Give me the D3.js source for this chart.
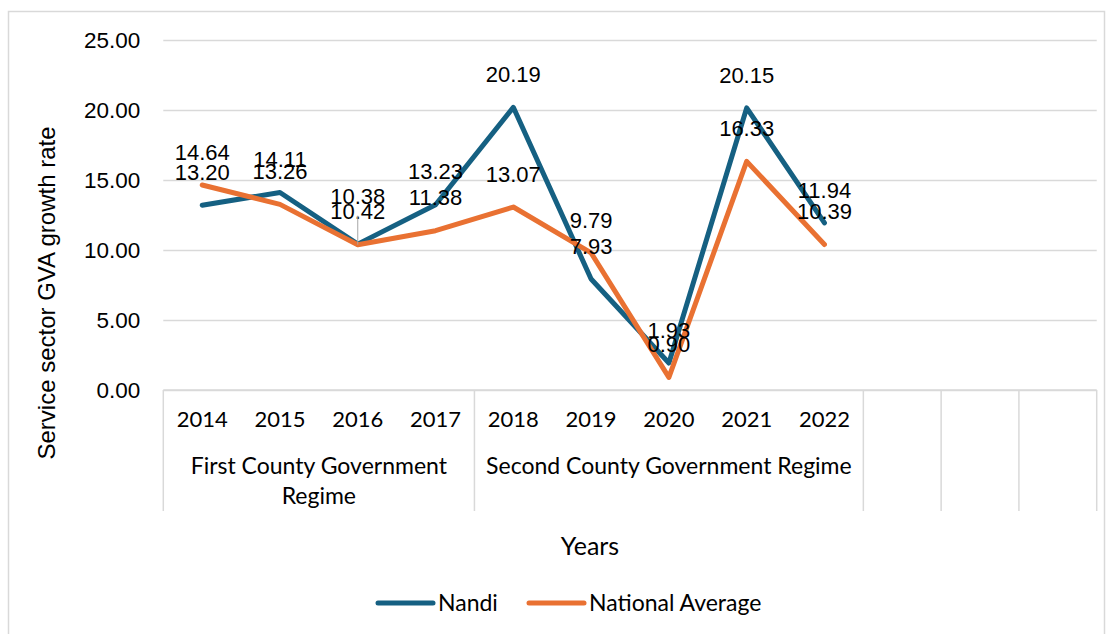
<!DOCTYPE html>
<html>
<head>
<meta charset="utf-8">
<script src="https://cdn.jsdelivr.net/npm/d3@7"></script>
<style>
  html, body { margin: 0; padding: 0; background: #ffffff; }
  svg { display: block; }
</style>
</head>
<body>
<svg id="chart" width="1111" height="634"></svg>
<script>
// Service sector GVA growth rate, Nandi vs national average (%)
const categories = ["2014", "2015", "2016", "2017", "2018", "2019", "2020", "2021", "2022", "", "", ""];
const regimes = ["First County Government Regime", "Second County Government Regime", "", "", ""];
const regimeSpans = [4, 5, 1, 1, 1];
const nandi = [13.20, 14.11, 10.42, 13.23, 20.19, 7.93, 1.93, 20.15, 11.94];
const national = [14.64, 13.26, 10.38, 11.38, 13.07, 9.79, 0.90, 16.33, 10.39];
const yTicks = [0, 5, 10, 15, 20, 25];
const seriesNames = ["Nandi", "National Average"];

const svg = d3.select("#chart");
const plot = { left: 163.3, right: 1096.7, top: 40, bottom: 390 };
const catAxisBottom = 511;
const gridColor = "#d9d9d9";
const colors = { "Nandi": "#156082", "National Average": "#E97132" };
const axisFont = "Lato, 'Open Sans', sans-serif";
const numFont = "'Liberation Sans', Arial, sans-serif";

// chart area frame
svg.append("rect")
  .attr("x", 8.5).attr("y", 11.5)
  .attr("width", 1096).attr("height", 640)
  .attr("fill", "#ffffff").attr("stroke", gridColor).attr("stroke-width", 1.5);

const x = d3.scaleBand()
  .domain(d3.range(categories.length))
  .range([plot.left, plot.right])
  .paddingInner(0).paddingOuter(0);
const y = d3.scaleLinear().domain([0, 25]).range([plot.bottom, plot.top]);
const cx = i => x(i) + x.bandwidth() / 2;

// value axis with gridlines
const yAxis = d3.axisLeft(y)
  .tickValues(yTicks)
  .tickFormat(d3.format(".2f"))
  .tickSize(-(plot.right - plot.left))
  .tickPadding(23);
const gy = svg.append("g")
  .attr("transform", `translate(${plot.left},0)`)
  .call(yAxis);
gy.select(".domain").remove();
gy.selectAll(".tick line").attr("stroke", gridColor).attr("stroke-width", 1.5);
gy.selectAll(".tick text")
  .attr("fill", "#000").attr("font-family", numFont).attr("font-size", 22.5);

// category axis: year row, regime row and separators
const catG = svg.append("g");
catG.append("line")
  .attr("x1", plot.left).attr("x2", plot.right)
  .attr("y1", plot.bottom).attr("y2", plot.bottom)
  .attr("stroke", gridColor).attr("stroke-width", 1.5);

const boundaries = [0];
regimeSpans.forEach((s, i) => boundaries.push(boundaries[i] + s));
boundaries.forEach(b => {
  const bx = b < categories.length ? x(b) : plot.right;
  catG.append("line")
    .attr("x1", bx).attr("x2", bx)
    .attr("y1", plot.bottom).attr("y2", catAxisBottom)
    .attr("stroke", gridColor).attr("stroke-width", 1.5);
});

catG.selectAll("text.year")
  .data(categories)
  .join("text")
  .attr("class", "year")
  .attr("x", (d, i) => cx(i))
  .attr("y", 419.5)
  .attr("dy", "0.35em")
  .attr("text-anchor", "middle")
  .attr("font-family", axisFont).attr("font-size", 22).attr("fill", "#000")
  .text(d => d);

// regime labels, wrapped to the width of their group
regimes.forEach((name, i) => {
  if (!name) return;
  const x0 = x(boundaries[i]);
  const x1 = boundaries[i + 1] < categories.length ? x(boundaries[i + 1]) : plot.right;
  const maxW = x1 - x0 - 8;
  const t = catG.append("text")
    .attr("x", (x0 + x1) / 2)
    .attr("y", 466)
    .attr("text-anchor", "middle")
    .attr("font-family", axisFont).attr("font-size", 23).attr("fill", "#000");
  const words = name.split(" ");
  let line = [];
  let tspan = t.append("tspan").attr("x", (x0 + x1) / 2).attr("dy", "0.35em");
  words.forEach(w => {
    line.push(w);
    tspan.text(line.join(" "));
    if (tspan.node().getComputedTextLength() > maxW && line.length > 1) {
      line.pop();
      tspan.text(line.join(" "));
      line = [w];
      tspan = t.append("tspan").attr("x", (x0 + x1) / 2).attr("dy", "1.3em").text(w);
    }
  });
});

// axis titles
svg.append("text")
  .attr("x", 590).attr("y", 546).attr("dy", "0.35em")
  .attr("text-anchor", "middle")
  .attr("font-family", axisFont).attr("font-size", 25).attr("fill", "#000")
  .text("Years");
svg.append("text")
  .attr("transform", "translate(47,293) rotate(-90)")
  .attr("dy", "0.35em")
  .attr("text-anchor", "middle")
  .attr("font-family", numFont).attr("font-size", 24).attr("fill", "#000")
  .text("Service sector GVA growth rate");

// series lines
const series = [
  { name: seriesNames[0], values: nandi },
  { name: seriesNames[1], values: national }
];
const line = d3.line().x((d, i) => cx(i)).y(d => y(d));
series.forEach(s => {
  svg.append("path")
    .datum(s.values)
    .attr("d", line)
    .attr("fill", "none")
    .attr("stroke", colors[s.name])
    .attr("stroke-width", 5)
    .attr("stroke-linejoin", "round")
    .attr("stroke-linecap", "round");
});

// data labels above each point; one label lifted clear of its neighbour
const labelGap = 33;
const lifted = { series: "National Average", index: 2, dy: -15 };
series.forEach(s => {
  s.values.forEach((v, i) => {
    const shift = (s.name === lifted.series && i === lifted.index) ? lifted.dy : 0;
    const ly = y(v) - labelGap + shift;
    if (shift) {
      svg.append("line")
        .attr("x1", cx(i)).attr("x2", cx(i))
        .attr("y1", ly + 19).attr("y2", y(v))
        .attr("stroke", "#a6a6a6").attr("stroke-width", 1);
    }
    svg.append("text")
      .attr("x", cx(i)).attr("y", ly).attr("dy", "0.35em")
      .attr("text-anchor", "middle")
      .attr("font-family", numFont).attr("font-size", 22).attr("fill", "#000")
      .text(d3.format(".2f")(v));
  });
});

// legend
const legendItems = [
  { name: seriesNames[0], x: 378 },
  { name: seriesNames[1], x: 529 }
];
const lg = svg.append("g");
legendItems.forEach(it => {
  lg.append("line")
    .attr("x1", it.x).attr("x2", it.x + 55)
    .attr("y1", 603).attr("y2", 603)
    .attr("stroke", colors[it.name]).attr("stroke-width", 5)
    .attr("stroke-linecap", "round");
  lg.append("text")
    .attr("x", it.x + 60).attr("y", 603).attr("dy", "0.35em")
    .attr("font-family", axisFont).attr("font-size", 23).attr("fill", "#000")
    .text(it.name);
});
</script>
</body>
</html>
